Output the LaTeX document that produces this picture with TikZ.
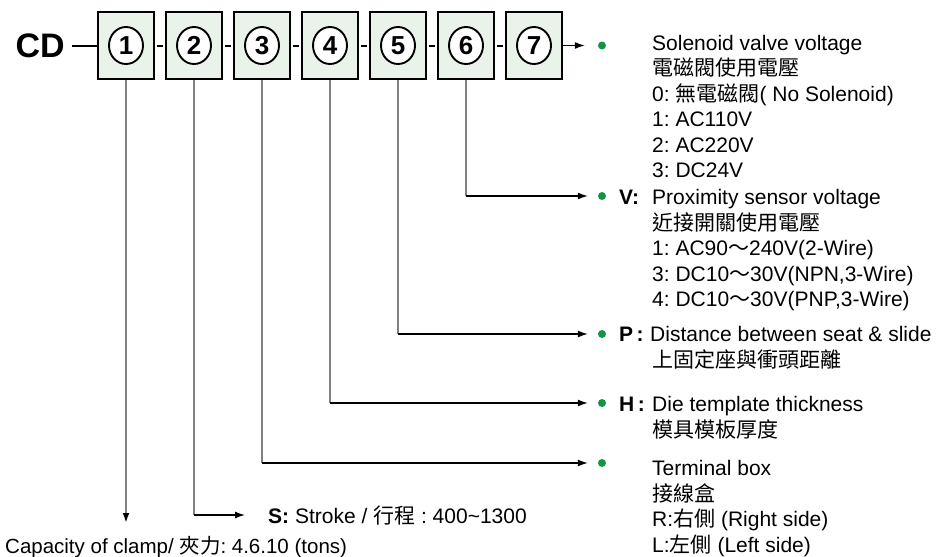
\documentclass[tikz,border=0pt]{standalone}
\usepackage{fontspec}
\setmainfont{Liberation Sans}
\newfontfamily\cjk{Noto Sans CJK TC}
\usetikzlibrary{arrows.meta,positioning,shapes.geometric}
\definecolor{boxfill}{RGB}{233,243,233}
\definecolor{dotgreen}{RGB}{14,150,68}
\definecolor{leadgray}{RGB}{128,128,128}
\frenchspacing

\begin{document}
\begin{tikzpicture}[x=1pt,y=-1pt,node distance=10pt,codebox/.style={draw,line width=2pt,fill=boxfill,minimum width=56pt,minimum height=67pt,inner sep=0pt},numcirc/.style={ellipse,draw,line width=1.9pt,fill=white,minimum width=34pt,minimum height=37pt,inner sep=0pt,font=\fontsize{26}{26}\selectfont\bfseries},gdot/.style={circle,fill=dotgreen,minimum size=8pt,inner sep=0pt},tag/.style={anchor=base west,inner sep=0pt,font=\fontsize{21}{25.5}\selectfont\bfseries},desc/.style={anchor=base west,inner sep=0pt,align=left,font=\fontsize{21}{25.5}\selectfont},tie/.style={line width=2pt},vlead/.style={draw=leadgray,line width=2pt},hlead/.style={line width=1.3pt,-{Latex[length=10pt,width=7pt]},shorten >=10pt}]
\useasboundingbox (0,0) rectangle (940,557);
\node[codebox] (b1) at (126,45.5) {};
\node[codebox,right=of b1] (b2) {};
\node[codebox,right=of b2] (b3) {};
\node[codebox,right=of b3] (b4) {};
\node[codebox,right=of b4] (b5) {};
\node[codebox,right=of b5] (b6) {};
\node[codebox,right=of b6] (b7) {};
\foreach \i in {1,...,7} \node[numcirc] (n\i) at (b\i) {\i};
\foreach \i/\j in {1/2,2/3,3/4,4/5,5/6,6/7} \draw[tie] ([xshift=2pt]b\i.east) -- ([xshift=-2pt]b\j.west);
\node[anchor=base east,inner sep=0pt,font=\fontsize{34}{34}\selectfont\bfseries] (cd) at (65,57) {CD};
\draw[tie,shorten >=7pt] (b1.west) -- (b1.west -| cd.east);
% multi-line nodes sit on the baseline of their last line
\node[gdot] (sol) at (602,45.5) {};
\node[desc] (soltxt) at (652,177.5) {Solenoid valve voltage\\{\cjk 電磁閥使用電壓}\\0: {\cjk 無電磁閥}( No Solenoid)\\1: AC110V\\2: AC220V\\3: DC24V};
\node[gdot] (vdot) at (602,196) {};
\node[tag] (vtag) at (619,204.5) {V:};
\node[desc] (vtxt) at (652,306.5) {Proximity sensor voltage\\{\cjk 近接開關使用電壓}\\1: AC90{\cjk ～}240V(2-Wire)\\3: DC10{\cjk ～}30V(NPN,3-Wire)\\4: DC10{\cjk ～}30V(PNP,3-Wire)};
\node[gdot] (pdot) at (602,334) {};
\node[tag] (ptag) at (619,341.5) {P\,:};
\node[desc] (ptxt) at (650,367) {Distance between seat \& slide\\\hspace{2pt}{\cjk 上固定座與衝頭距離}};
\node[gdot] (hdot) at (602,403) {};
\node[tag] (htag) at (619,411.5) {H\,:};
\node[desc] (htxt) at (652,437) {Die template thickness\\{\cjk 模具模板厚度}};
\node[gdot] (tdot) at (602,463) {};
\node[desc] (ttxt) at (652,552) {Terminal box\\{\cjk 接線盒}\\R:{\cjk 右側} (Right side)\\L:{\cjk 左側} (Left side)};
\node[desc] (stroke) at (268,523) {\textbf{S:} Stroke / {\cjk 行程} : 400\textasciitilde1300};
\node[desc,font=\fontsize{20.5}{24}\selectfont] (cap) at (5,553) {Capacity of clamp/ {\cjk 夾力}: 4.6.10 (tons)};
\draw[hlead,shorten >=13pt] (b7.east) -- (sol);
\coordinate (k1) at (b1.south |- 0,523);
\draw[vlead,-{Latex[length=10pt,width=7pt,black]}] (b1.south) -- (k1);
\coordinate (k2) at (b2.south |- 0,515);
\coordinate (e2) at (245,515);
\draw[vlead] (b2.south) -- (k2);
\draw[hlead,shorten >=0pt] (k2) -- (e2);
\coordinate (k3) at (b3.south |- tdot);
\draw[vlead] (b3.south) -- (k3);
\draw[hlead] (k3) -- (tdot);
\coordinate (k4) at (b4.south |- hdot);
\draw[vlead] (b4.south) -- (k4);
\draw[hlead] (k4) -- (hdot);
\coordinate (k5) at (b5.south |- pdot);
\draw[vlead] (b5.south) -- (k5);
\draw[hlead] (k5) -- (pdot);
\coordinate (k6) at (b6.south |- vdot);
\draw[vlead] (b6.south) -- (k6);
\draw[hlead] (k6) -- (vdot);
\end{tikzpicture}
\end{document}
